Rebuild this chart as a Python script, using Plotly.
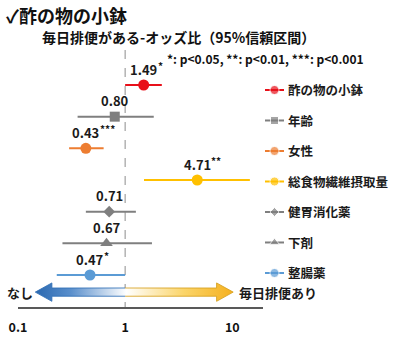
import math
import plotly.graph_objects as go

# ---- data ----
labels = ["酢の物の小鉢", "年齢", "女性", "総食物繊維摂取量", "健胃消化薬", "下剤", "整腸薬"]
odds = [1.49, 0.80, 0.43, 4.71, 0.71, 0.67, 0.47]
ci_low = [1.00, 0.36, 0.30, 1.50, 0.43, 0.26, 0.23]
ci_high = [2.20, 1.85, 0.63, 14.6, 1.26, 1.78, 1.00]
stars = ["*", "", "***", "**", "", "", "*"]
tick_vals = [0.1, 1, 10]
tick_text = ["0.1", "1", "10"]

# ---- styles ----
colors = ["#E8101A", "#7F7F7F", "#ED7D31", "#FFC000", "#7F7F7F", "#7F7F7F", "#5B9BD5"]
symbols = ["circle", "square", "circle", "circle", "diamond", "triangle-up", "circle"]
msizes = [11, 10, 11, 11, 9, 11, 11]
FONT = "Noto Sans CJK JP"

W, H = 400, 341
ML, MR, MT, MB = 18, 0, 50, 34
PW = W - ML - MR
PH = H - MT - MB
AX_RIGHT = 263  # right end of the odds-ratio axis (px)


def px(x):
    return (x - ML) / PW


def py(y):
    return (H - MB - y) / PH


def note(x, y, text, size, anchor="left", color="#111111"):
    fig.add_annotation(x=px(x), y=py(y), xref="paper", yref="paper",
                       xanchor=anchor, yanchor="middle", text=text, showarrow=False,
                       font=dict(family=FONT, size=size, color=color))


fig = go.Figure()
n = len(labels)

# reference line at OR = 1
fig.add_trace(go.Scatter(x=[1, 1], y=[-1.105, 7.01], mode="lines",
                         line=dict(color="#8C8C8C", width=1, dash="dash"),
                         hoverinfo="skip", showlegend=False))

# confidence intervals and point estimates
for i in range(n):
    fig.add_trace(go.Scatter(x=[ci_low[i], ci_high[i]], y=[i, i], mode="lines",
                             line=dict(color=colors[i], width=2),
                             hoverinfo="skip", showlegend=False))
    fig.add_trace(go.Scatter(x=[odds[i]], y=[i], mode="markers",
                             marker=dict(color=colors[i], symbol=symbols[i], size=msizes[i]),
                             name=labels[i], showlegend=False))
    fig.add_annotation(x=math.log10(odds[i]), y=i, xref="x", yref="y",
                       xanchor="center", yanchor="middle",
                       text=f"<b>{odds[i]:.2f}</b>", showarrow=False,
                       yshift=16, font=dict(family=FONT, size=13, color="#1a1a1a"))
    if stars[i]:
        fig.add_annotation(x=math.log10(odds[i]), y=i, xref="x", yref="y",
                           text=f"<b>{stars[i]}</b>", showarrow=False,
                           xanchor="left", yanchor="middle",
                           xshift=12, yshift=20, font=dict(family=FONT, size=10, color="#1a1a1a"))

# legend drawn as line + marker samples
for i in range(n):
    fig.add_trace(go.Scatter(x=[0, 0.5, 1], y=[i, i, i], mode="lines+markers",
                             xaxis="x2", yaxis="y2",
                             line=dict(color=colors[i], width=2),
                             marker=dict(color=colors[i], symbol=symbols[i],
                                         size=[0, msizes[i] - 2, 0]),
                             hoverinfo="skip", showlegend=False))
    fig.add_annotation(x=px(286), y=i, xref="paper", yref="y2",
                       xanchor="left", yanchor="middle",
                       text=f"<b>{labels[i]}</b>", showarrow=False,
                       font=dict(family=FONT, size=12.5, color="#1a1a1a"))

# double-headed gradient arrow under the estimates
lt, rt = math.log10(0.145), math.log10(10.2)
head = 0.155
yc, hh, sh = 6.54, 0.29, 0.13
ax_pts = [(lt, yc), (lt + head, yc - hh), (lt + head, yc - sh), (rt - head, yc - sh),
          (rt - head, yc - hh), (rt, yc), (rt - head, yc + hh), (rt - head, yc + sh),
          (lt + head, yc + sh), (lt + head, yc + hh), (lt, yc)]
fig.add_trace(go.Scatter(x=[10 ** p[0] for p in ax_pts], y=[p[1] for p in ax_pts],
                         mode="lines", fill="toself",
                         line=dict(color="rgba(0,0,0,0)", width=0),
                         fillgradient=dict(type="horizontal",
                                           colorscale=[[0, "#2A68B0"], [0.18, "#5A8FCC"],
                                                       [0.46, "#FFFFFF"], [0.75, "#FBD56A"],
                                                       [1, "#F5B01E"]]),
                         hoverinfo="skip", showlegend=False))
# thin outlines on each half of the arrow
mid = 0.0
left_edge = [(mid, yc - sh), (lt + head, yc - sh), (lt + head, yc - hh), (lt, yc),
             (lt + head, yc + hh), (lt + head, yc + sh), (mid, yc + sh)]
right_edge = [(mid, yc - sh), (rt - head, yc - sh), (rt - head, yc - hh), (rt, yc),
              (rt - head, yc + hh), (rt - head, yc + sh), (mid, yc + sh)]
for edge, col in ((left_edge, "rgba(47,110,181,0.85)"), (right_edge, "rgba(214,160,30,0.85)")):
    fig.add_trace(go.Scatter(x=[10 ** p[0] for p in edge], y=[p[1] for p in edge],
                             mode="lines", line=dict(color=col, width=1),
                             hoverinfo="skip", showlegend=False))
note(20, 292, "<b>なし</b>", 13, anchor="center", color="#1a1a1a")
note(237, 292, "<b>毎日排便あり</b>", 13, color="#1a1a1a")

# titles
note(4, 15, "<b>✓酢の物の小鉢</b>", 18)
note(40, 37, "<b>毎日排便がある-オッズ比（95%信頼区間）</b>", 14)
note(165, 58, "<b>*: p&lt;0.05, **: p&lt;0.01, ***: p&lt;0.001</b>", 12)

fig.update_layout(
    width=W, height=H,
    margin=dict(l=ML, r=MR, t=MT, b=MB, pad=0),
    paper_bgcolor="white", plot_bgcolor="white",
    xaxis=dict(type="log", range=[-1, (AX_RIGHT - 125.3) / 107],
               domain=[0, (AX_RIGHT - ML) / PW],
               showline=True, linecolor="#595959", linewidth=1.5,
               showgrid=False, zeroline=False, ticks="",
               tickvals=tick_vals, ticktext=[f"<b>{t}</b>" for t in tick_text],
               tickfont=dict(family=FONT, size=12.5, color="#111111"),
               ticklabelstandoff=8),
    yaxis=dict(range=[7.01, -1.105], visible=False),
    xaxis2=dict(domain=[px(265), px(284)], range=[0, 1], visible=False, anchor="y2"),
    yaxis2=dict(range=[7.115, -1.311], visible=False, anchor="x2"),
)

fig.write_html("out.html")
